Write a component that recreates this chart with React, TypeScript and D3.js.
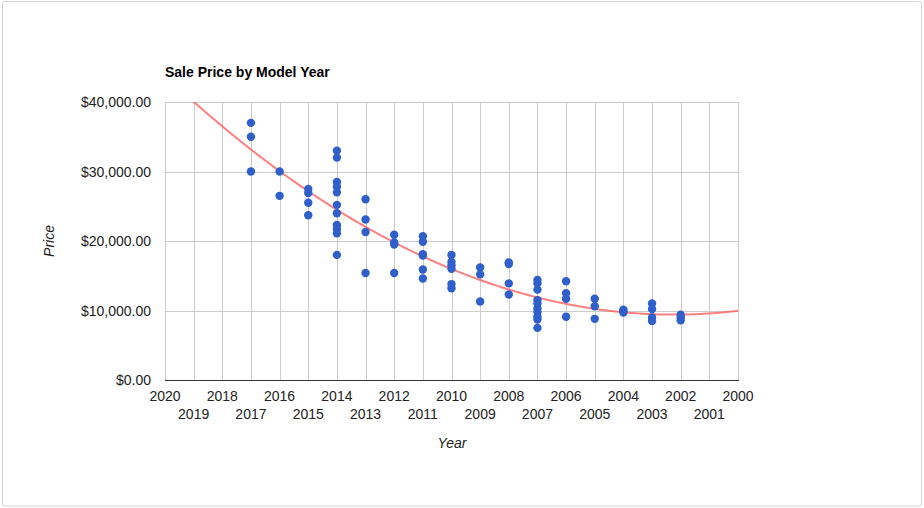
import React from "react";
import * as d3 from "d3";

const years: number[] = [
  2017, 2017, 2017,
  2016, 2016,
  2015, 2015, 2015, 2015,
  2014, 2014, 2014, 2014, 2014, 2014, 2014, 2014, 2014, 2014, 2014,
  2013, 2013, 2013, 2013,
  2012, 2012, 2012, 2012,
  2011, 2011, 2011, 2011, 2011, 2011,
  2010, 2010, 2010, 2010, 2010, 2010,
  2009, 2009, 2009,
  2008, 2008, 2008, 2008,
  2007, 2007, 2007, 2007, 2007, 2007, 2007, 2007, 2007, 2007,
  2006, 2006, 2006, 2006,
  2005, 2005, 2005,
  2004, 2004, 2004,
  2003, 2003, 2003, 2003,
  2002, 2002, 2002,
];
const prices: number[] = [
  37000, 35000, 30000,
  30000, 26500,
  27500, 26900, 25500, 23700,
  33000, 32000, 28500, 27800, 27000, 25200, 24000, 22300, 21700, 21100, 18000,
  26000, 23100, 21300, 15400,
  20900, 19800, 19500, 15400,
  20700, 19900, 18100, 17900, 15900, 14600,
  18000, 17000, 16500, 16000, 13800, 13200,
  16200, 15200, 11300,
  16900, 16700, 13900, 12300,
  14400, 13900, 13000, 11500, 11000, 10300, 9800, 9100, 8700, 7500,
  14200, 12500, 11700, 9100,
  11700, 10600, 8800,
  10100, 9900, 9700,
  11000, 10200, 9000, 8500,
  9400, 9000, 8600,
];

const xTicks: number[] = d3.range(2020, 1999, -1);
const yTicks: number[] = [0, 10000, 20000, 30000, 40000];

const title = "Sale Price by Model Year";
const xTitle = "Year";
const yTitle = "Price";

function fitQuadratic(xs: number[], ys: number[]) {
  const x0 = d3.mean(xs) as number;
  const n = xs.length;
  let s1 = 0, s2 = 0, s3 = 0, s4 = 0, t0 = 0, t1 = 0, t2 = 0;
  for (let i = 0; i < n; i++) {
    const u = xs[i] - x0;
    const y = ys[i];
    s1 += u; s2 += u * u; s3 += u * u * u; s4 += u * u * u * u;
    t0 += y; t1 += u * y; t2 += u * u * y;
  }
  const A = [
    [n, s1, s2, t0],
    [s1, s2, s3, t1],
    [s2, s3, s4, t2],
  ];
  for (let c = 0; c < 3; c++) {
    for (let r = c + 1; r < 3; r++) {
      const f = A[r][c] / A[c][c];
      for (let k = c; k < 4; k++) A[r][k] -= f * A[c][k];
    }
  }
  const b = [0, 0, 0];
  for (let r = 2; r >= 0; r--) {
    let s = A[r][3];
    for (let k = r + 1; k < 3; k++) s -= A[r][k] * b[k];
    b[r] = s / A[r][r];
  }
  return (x: number) => {
    const u = x - x0;
    return b[0] + b[1] * u + b[2] * u * u;
  };
}

export default function App() {
  const W = 924, H = 508;
  const left = 165, right = 738, top = 102, bottom = 380;
  const x = d3.scaleLinear().domain([2020, 2000]).range([left, right]);
  const y = d3.scaleLinear().domain([0, 40000]).range([bottom, top]);
  const fmt = (v: number) => "$" + d3.format(",.2f")(v);
  const trend = fitQuadratic(years, prices);
  const trendPts = d3.range(0, 401).map((i) => 2020 - i * 0.05);
  const line = d3
    .line<number>()
    .x((d) => x(d))
    .y((d) => y(trend(d)));
  const font = "'Liberation Sans', Arial, sans-serif";
  const fs = 14;

  return (
    <svg
      width={W}
      height={H}
      style={{ position: "absolute", left: 0, top: 0 }}
      fontFamily={font}
    >
      <rect x={0} y={0} width={W} height={H} fill="#fff" />
      <rect
        x={2.5}
        y={1.5}
        width={919}
        height={504.5}
        rx={2}
        fill="#fff"
        stroke="#d4d4d4"
        strokeWidth={1}
      />
      <defs>
        <clipPath id="plot">
          <rect x={left} y={top} width={right - left} height={bottom - top} />
        </clipPath>
      </defs>
      <text x={left} y={77} fontSize={14} fontWeight="bold" fill="#000">
        {title}
      </text>
      {yTicks.map((t) => (
        <line
          key={"hy" + t}
          x1={left}
          x2={right}
          y1={Math.round(y(t)) + 0.5}
          y2={Math.round(y(t)) + 0.5}
          stroke="#cccccc"
        />
      ))}
      {xTicks.map((t) => (
        <line
          key={"vx" + t}
          x1={Math.round(x(t)) + 0.5}
          x2={Math.round(x(t)) + 0.5}
          y1={top}
          y2={bottom}
          stroke="#cccccc"
        />
      ))}
      <line x1={left} x2={right + 1} y1={bottom + 0.5} y2={bottom + 0.5} stroke="#333" />
      {yTicks.map((t) => (
        <text
          key={"ly" + t}
          x={151}
          y={y(t) + 5}
          fontSize={fs}
          textAnchor="end"
          fill="#222"
        >
          {fmt(t)}
        </text>
      ))}
      {xTicks.map((t, i) => (
        <text
          key={"lx" + t}
          x={x(t)}
          y={i % 2 === 0 ? 400.5 : 419}
          fontSize={fs}
          textAnchor="middle"
          fill="#222"
        >
          {String(t)}
        </text>
      ))}
      <text
        x={452}
        y={447.5}
        fontSize={fs}
        fontStyle="italic"
        textAnchor="middle"
        fill="#222"
      >
        {xTitle}
      </text>
      <text
        transform={`translate(53.5,241) rotate(-90)`}
        fontSize={fs}
        fontStyle="italic"
        textAnchor="middle"
        fill="#222"
      >
        {yTitle}
      </text>
      <g clipPath="url(#plot)">
        <path
          d={line(trendPts) || ""}
          fill="none"
          stroke="#ff5555"
          strokeOpacity={0.75}
          strokeWidth={2}
        />
      </g>
      {years.map((yr, i) => (
        <circle
          key={"p" + i}
          cx={x(yr)}
          cy={y(prices[i])}
          r={4.2}
          fill="#2f5fcb"
        />
      ))}
    </svg>
  );
}
